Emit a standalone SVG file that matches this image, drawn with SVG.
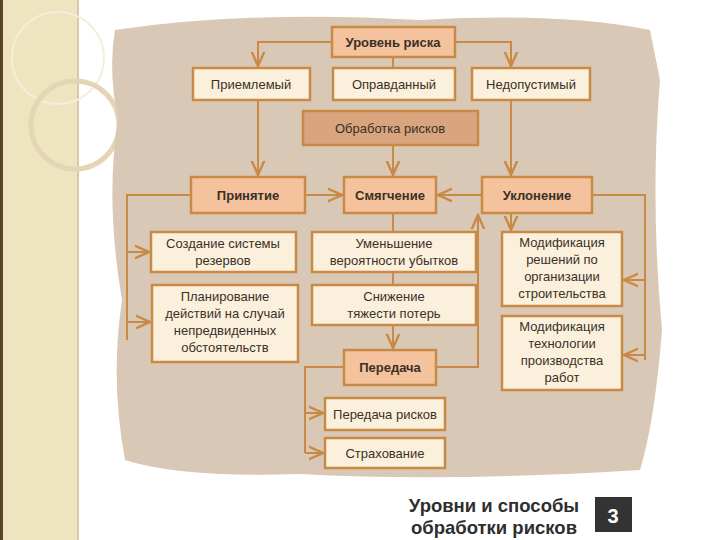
<svg xmlns="http://www.w3.org/2000/svg" width="720" height="540" viewBox="0 0 720 540">
<defs>
<style>
.n rect{stroke:#c98a45;stroke-width:2.5}
.c{fill:#fbf0dc}.s{fill:#f4c29c}.d{fill:#d9a57e}
text{font-family:"Liberation Sans",Arial,sans-serif;font-size:13px;fill:#3a3028;text-anchor:middle}
.b{font-weight:bold}
#connectors path{fill:none;stroke:#c98a45;stroke-width:2}
</style>
<marker id="a" viewBox="0 0 10 10" refX="9" refY="5" markerWidth="8" markerHeight="8" orient="auto"><path d="M0,1 L9,5 L0,9" fill="none" stroke="#c98a45" stroke-width="1.5"/></marker>
</defs>
<rect width="720" height="540" fill="#fff"/>
<rect x="0" y="0" width="78" height="540" fill="#efe4c0"/>
<rect x="0" y="0" width="3" height="540" fill="#5a4428"/>
<rect x="77" y="0" width="2" height="540" fill="#d8c8a8"/>
<circle cx="58" cy="58" r="46" fill="none" stroke="#f6eedb" stroke-width="2"/>
<circle cx="75" cy="125" r="44" fill="none" stroke="#e3d6b4" stroke-width="5"/>
<path d="M115,30 Q250,10 420,20 Q560,12 650,30 L660,80 Q650,200 662,330 Q655,420 640,470 Q450,482 300,474 Q180,478 125,460 Q110,380 122,300 Q105,200 118,120 Q108,70 115,30Z" fill="#d9c8b6"/>
<g id="connectors">
<path d="M332,42 H258 V66" marker-end="url(#a)"/>
<path d="M455,42 H511 V66" marker-end="url(#a)"/>
<path d="M393,57 V68"/>
<path d="M258,100 V175" marker-end="url(#a)"/>
<path d="M511,100 V175" marker-end="url(#a)"/>
<path d="M393,145 V175" marker-end="url(#a)"/>
<path d="M305,195 H342" marker-end="url(#a)"/>
<path d="M482,195 H438" marker-end="url(#a)"/>
<path d="M191,195 H127 V340"/>
<path d="M127,252 H149" marker-end="url(#a)"/>
<path d="M127,322 H150" marker-end="url(#a)"/>
<path d="M592,195 H645 V360"/>
<path d="M645,280 H624" marker-end="url(#a)"/>
<path d="M645,355 H624" marker-end="url(#a)"/>
<path d="M511,213 V230" marker-end="url(#a)"/>
<path d="M436,367 H478 V215" marker-end="url(#a)"/>
<path d="M393,213 V348" marker-end="url(#a)"/>
<path d="M344,367 H305 V453"/>
<path d="M305,413 H323" marker-end="url(#a)"/>
<path d="M305,453 H323" marker-end="url(#a)"/>
</g>
<g id="n1" class="n"><rect class="s" x="332" y="27" width="123" height="30"/><text class="b" x="393" y="47">Уровень риска</text></g>
<g id="n2" class="n"><rect class="c" x="193" y="68" width="117" height="32"/><text x="251" y="89">Приемлемый</text></g>
<g id="n3" class="n"><rect class="c" x="333" y="68" width="122" height="32"/><text x="394" y="89">Оправданный</text></g>
<g id="n4" class="n"><rect class="c" x="472" y="68" width="118" height="32"/><text x="531" y="89">Недопустимый</text></g>
<g id="n5" class="n"><rect class="d" x="303" y="111" width="175" height="34"/><text x="390" y="133">Обработка рисков</text></g>
<g id="n6" class="n"><rect class="s" x="191" y="177" width="114" height="36"/><text class="b" x="248" y="200">Принятие</text></g>
<g id="n7" class="n"><rect class="s" x="344" y="177" width="92" height="36"/><text class="b" x="390" y="200">Смягчение</text></g>
<g id="n8" class="n"><rect class="s" x="482" y="177" width="110" height="36"/><text class="b" x="537" y="200">Уклонение</text></g>
<g id="n9" class="n"><rect class="c" x="151" y="232" width="145" height="40"/><text x="223" y="248">Создание системы</text><text x="223" y="265">резервов</text></g>
<g id="n10" class="n"><rect class="c" x="312" y="232" width="164" height="40"/><text x="394" y="248">Уменьшение</text><text x="394" y="265">вероятности убытков</text></g>
<g id="n11" class="n"><rect class="c" x="502" y="232" width="120" height="74"/><text x="562" y="247">Модификация</text><text x="562" y="264">решений по</text><text x="562" y="281">организации</text><text x="562" y="298">строительства</text></g>
<g id="n12" class="n"><rect class="c" x="152" y="285" width="146" height="77"/><text x="225" y="301">Планирование</text><text x="225" y="318">действий на случай</text><text x="225" y="335">непредвиденных</text><text x="225" y="352">обстоятельств</text></g>
<g id="n13" class="n"><rect class="c" x="312" y="285" width="164" height="40"/><text x="394" y="301">Снижение</text><text x="394" y="318">тяжести потерь</text></g>
<g id="n14" class="n"><rect class="c" x="502" y="316" width="120" height="74"/><text x="562" y="331">Модификация</text><text x="562" y="348">технологии</text><text x="562" y="365">производства</text><text x="562" y="382">работ</text></g>
<g id="n15" class="n"><rect class="s" x="344" y="350" width="92" height="35"/><text class="b" x="390" y="372">Передача</text></g>
<g id="n16" class="n"><rect class="c" x="325" y="398" width="120" height="32"/><text x="385" y="419">Передача рисков</text></g>
<g id="n17" class="n"><rect class="c" x="325" y="438" width="120" height="30"/><text x="385" y="458">Страхование</text></g>
<text x="494" y="512" style="font-size:18.5px;font-weight:bold;fill:#2e2e2e">Уровни и способы</text>
<text x="494" y="534" style="font-size:18.5px;font-weight:bold;fill:#2e2e2e">обработки рисков</text>
<rect x="595" y="497" width="37" height="35" fill="#333"/>
<text x="613" y="523" style="font-size:20px;font-weight:bold;fill:#fff">3</text>
</svg>
